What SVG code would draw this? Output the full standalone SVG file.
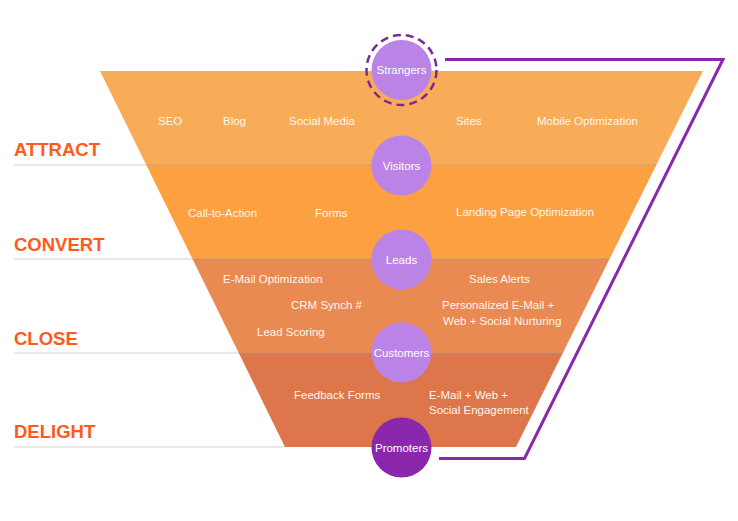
<svg xmlns="http://www.w3.org/2000/svg" width="738" height="521" viewBox="0 0 738 521">
<style>
.stage{font-family:"Liberation Sans",Arial,sans-serif;font-weight:bold;font-size:18.5px;fill:#FF5A1A}
.item{font-family:"Liberation Sans",Arial,sans-serif;font-size:11.5px;fill:#FFF6EC}
.node{font-family:"Liberation Sans",Arial,sans-serif;font-size:11.5px;fill:#FFFFFF;text-anchor:middle}
.sep{stroke:#9a9a9a;stroke-opacity:0.45;stroke-width:1.2}
.light{fill:#BC83E6}
.dark{fill:#8A27AD}
</style>
<rect width="738" height="521" fill="#FFFFFF"/>
<g id="funnel">
<polygon points="100,71 703,71 656.3,165 146.3,165" fill="#F9AC58"/>
<polygon points="146.3,165 656.3,165 609.5,259 192.5,259" fill="#FCA042"/>
<polygon points="192.5,259 609.5,259 562.8,353 238.8,353" fill="#E98A53"/>
<polygon points="238.8,353 562.8,353 516,447 285,447" fill="#DD764A"/>
</g>
<g id="separators">
<line class="sep" x1="14" y1="165" x2="656.3" y2="165"/>
<line class="sep" x1="14" y1="259" x2="609.5" y2="259"/>
<line class="sep" x1="14" y1="353" x2="562.8" y2="353"/>
<line class="sep" x1="14" y1="447" x2="285" y2="447"/>
</g>
<g id="stages">
<text class="stage" x="14" y="156">ATTRACT</text>
<text class="stage" x="14" y="251">CONVERT</text>
<text class="stage" x="14" y="345">CLOSE</text>
<text class="stage" x="14" y="438">DELIGHT</text>
</g>
<g id="items">
<text class="item" x="158" y="125">SEO</text>
<text class="item" x="223" y="125">Blog</text>
<text class="item" x="289" y="125">Social Media</text>
<text class="item" x="456" y="125">Sites</text>
<text class="item" x="537" y="125">Mobile Optimization</text>
<text class="item" x="188" y="217">Call-to-Action</text>
<text class="item" x="315" y="217">Forms</text>
<text class="item" x="456" y="216">Landing Page Optimization</text>
<text class="item" x="223" y="283">E-Mail Optimization</text>
<text class="item" x="469" y="283">Sales Alerts</text>
<text class="item" x="291" y="309">CRM Synch #</text>
<text class="item" x="442" y="309">Personalized E-Mail +</text>
<text class="item" x="443" y="325">Web + Social Nurturing</text>
<text class="item" x="257" y="336">Lead Scoring</text>
<text class="item" x="294" y="399">Feedback Forms</text>
<text class="item" x="429" y="399">E-Mail + Web +</text>
<text class="item" x="429" y="414">Social Engagement</text>
</g>
<g id="connectors">
<polyline points="445,59.5 723,59.5 524.5,458.5 439,458.5" fill="none" stroke="#8A27AD" stroke-width="3" stroke-linejoin="miter"/>
</g>
<g id="strangers">
<circle cx="401.5" cy="70" r="35" fill="none" stroke="#7E2A93" stroke-width="2.5" stroke-dasharray="8,5"/>
<circle class="light" cx="401.5" cy="70" r="30"/>
<text class="node" x="401.5" y="74">Strangers</text>
</g>
<g id="visitors">
<circle class="light" cx="401.5" cy="165.5" r="30"/>
<text class="node" x="401.5" y="170">Visitors</text>
</g>
<g id="leads">
<circle class="light" cx="401.5" cy="259.5" r="30"/>
<text class="node" x="401.5" y="264">Leads</text>
</g>
<g id="customers">
<circle class="light" cx="401.5" cy="352.5" r="30"/>
<text class="node" x="401.5" y="357">Customers</text>
</g>
<g id="promoters">
<circle class="dark" cx="401.5" cy="447.5" r="30"/>
<text class="node" x="401.5" y="452">Promoters</text>
</g>
</svg>
